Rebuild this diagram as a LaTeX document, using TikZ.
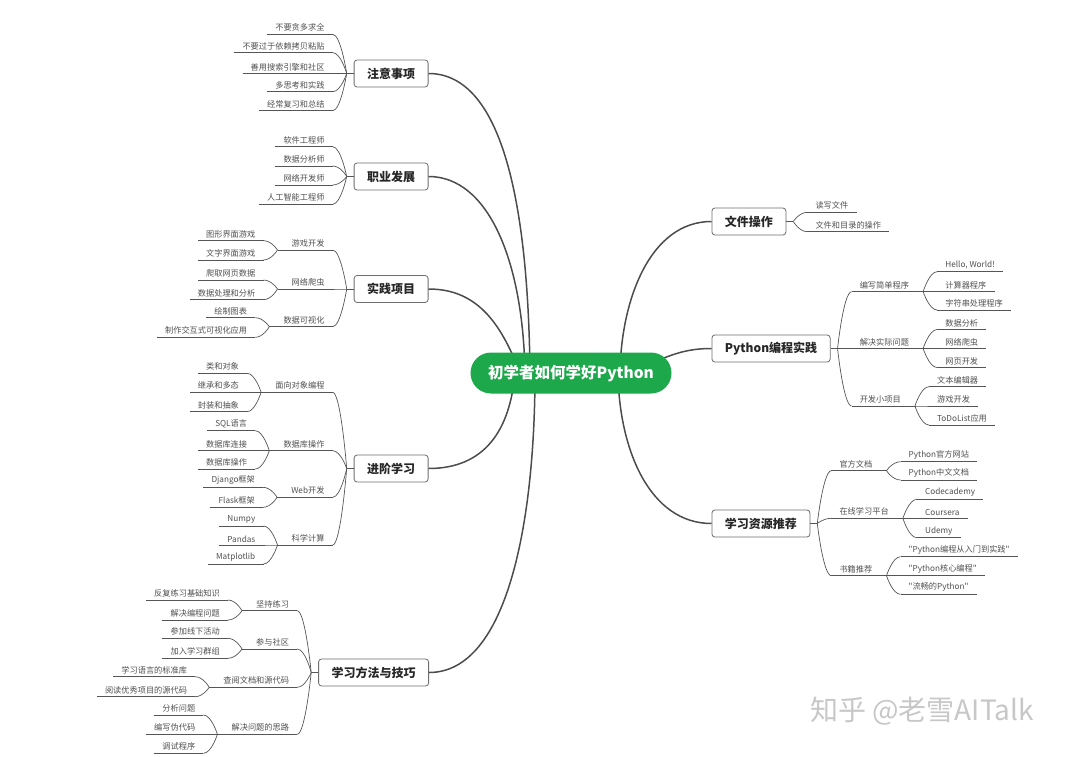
\documentclass[tikz,border=0pt]{standalone}
\usepackage{fontspec}
\setmainfont{Noto Sans CJK SC}
\newfontfamily\plainq{Noto Sans CJK SC}
\usetikzlibrary{calc}
\definecolor{pygreen}{RGB}{29,168,76}
\definecolor{linecol}{RGB}{85,85,85}
\definecolor{boxcol}{RGB}{110,110,110}
\definecolor{leafcol}{RGB}{80,80,80}
\newcommand\leaffont{\fontsize{8.2}{9}\selectfont}
\newcommand\dq{{\plainq\symbol{34}}}
\newcommand\LKid[4]{%
  \node[leaf, anchor=south east] (#1) at ($(#2)+(-14,#3)$) {#4};
  \draw[conn] (#2) .. controls (#2) and ([xshift=8pt]#1.south east) .. (#1.south east);}
\newcommand\RKid[4]{%
  \node[leaf, anchor=south west] (#1) at ($(#2)+(14,#3)$) {#4};
  \draw[conn] (#2) .. controls (#2) and ([xshift=-8pt]#1.south west) .. (#1.south west);}
\newcommand\LFork[1]{\coordinate (#1F) at ([xshift=-6pt]#1.south west); \draw[conn] (#1.south west) -- (#1F);}
\newcommand\RFork[1]{\coordinate (#1F) at ([xshift=6pt]#1.south east); \draw[conn] (#1.south east) -- (#1F);}
\begin{document}
\begin{tikzpicture}[x=1pt,y=-1pt,
  conn/.style={draw=linecol, line width=0.7pt},
  mainconn/.style={draw=linecol!90!black, line width=1.5pt},
  leaf/.style={font=\leaffont, text=leafcol, inner xsep=8pt, inner ysep=2.5pt,
    append after command={(\tikzlastnode.south west) edge[conn] (\tikzlastnode.south east)}},
  mainbox/.style={draw=boxcol, line width=0.8pt, rounded corners=3pt, fill=white, text=black!85,
    font=\fontsize{12}{14}\selectfont\bfseries, inner xsep=13pt, minimum height=27pt},
  centre/.style={fill=pygreen, text=white, rounded corners=20.5pt, minimum width=201pt,
    minimum height=41pt, font=\fontsize{15.5}{18}\selectfont\bfseries}]
\useasboundingbox (0,0) rectangle (1080,756);

% ---------- main nodes ----------
\node[mainbox, anchor=east] (ZY) at (428.5,73.5) {注意事项};
\node[mainbox, anchor=east] (ZF) at (428.5,176.5) {职业发展};
\node[mainbox, anchor=east] (SJ) at (428.5,289) {实践项目};
\node[mainbox, anchor=east] (JJ) at (428.5,468.5) {进阶学习};
\node[mainbox, anchor=east] (XX) at (429,672.5) {学习方法与技巧};
\node[mainbox, anchor=west] (WJ) at (711.5,221.5) {文件操作};
\node[mainbox, anchor=west] (PY) at (711.5,348.5) {Python编程实践};
\node[mainbox, anchor=west] (XZ) at (711.5,523.5) {学习资源推荐};

% ---------- main connectors ----------
\draw[mainconn] (ZY.east) .. controls (495,73.5) and (528,180) .. (530,373);
\draw[mainconn] (ZF.east) .. controls (488,176.5) and (523,260) .. (525,373);
\draw[mainconn] (SJ.east) .. controls (475,289) and (500,320) .. (520,373);
\draw[mainconn] (JJ.east) .. controls (485,468.5) and (510,430) .. (515,373);
\draw[mainconn] (XX.east) .. controls (508,672.5) and (535,520) .. (535,373);
\draw[mainconn] (WJ.west) .. controls (650,221.5) and (621,300) .. (620,373);
\draw[mainconn] (PY.west) .. controls (685,348.5) and (670,355) .. (640,368);
\draw[mainconn] (XZ.west) .. controls (650,523.5) and (619,450) .. (618,373);

% ---------- centre ----------
\node[centre] (C) at (571,373) {初学者如何学好Python};

% ---------- 注意事项 ----------
\coordinate (ZYF) at ([xshift=-7pt]ZY.west); \draw[conn] (ZY.west) -- (ZYF);
\LKid{zy1}{ZYF}{-39.2}{不要贪多求全}
\LKid{zy2}{ZYF}{-20.8}{不要过于依赖拷贝粘贴}
\LKid{zy3}{ZYF}{0}{善用搜索引擎和社区}
\LKid{zy4}{ZYF}{18.2}{多思考和实践}
\LKid{zy5}{ZYF}{37.2}{经常复习和总结}

% ---------- 职业发展 ----------
\coordinate (ZFF) at ([xshift=-7pt]ZF.west); \draw[conn] (ZF.west) -- (ZFF);
\LKid{zf1}{ZFF}{-29.8}{软件工程师}
\LKid{zf2}{ZFF}{-10.5}{数据分析师}
\LKid{zf3}{ZFF}{8.5}{网络开发师}
\LKid{zf4}{ZFF}{27.8}{人工智能工程师}

% ---------- 实践项目 ----------
\coordinate (SJF) at ([xshift=-7pt]SJ.west); \draw[conn] (SJ.west) -- (SJF);
\LKid{sj1}{SJF}{-39}{游戏开发}
\LKid{sj2}{SJF}{0}{网络爬虫}
\LKid{sj3}{SJF}{37.7}{数据可视化}
\LFork{sj1}\LFork{sj2}\LFork{sj3}
\LKid{sj11}{sj1F}{-9.3}{图形界面游戏}
\LKid{sj12}{sj1F}{10}{文字界面游戏}
\LKid{sj21}{sj2F}{-9}{爬取网页数据}
\LKid{sj22}{sj2F}{10.7}{数据处理和分析}
\LKid{sj31}{sj3F}{-9}{绘制图表}
\LKid{sj32}{sj3F}{10.6}{制作交互式可视化应用}

% ---------- 进阶学习 ----------
\coordinate (JJF) at ([xshift=-7pt]JJ.west); \draw[conn] (JJ.west) -- (JJF);
\LKid{jj1}{JJF}{-76.2}{面向对象编程}
\LKid{jj2}{JJF}{-17.8}{数据库操作}
\LKid{jj3}{JJF}{28.8}{Web开发}
\LKid{jj4}{JJF}{76.5}{科学计算}
\LFork{jj1}\LFork{jj2}\LFork{jj3}\LFork{jj4}
\LKid{jj11}{jj1F}{-19}{类和对象}
\LKid{jj12}{jj1F}{0}{继承和多态}
\LKid{jj13}{jj1F}{19.4}{封装和抽象}
\LKid{jj21}{jj2F}{-20}{SQL语言}
\LKid{jj22}{jj2F}{0}{数据库连接}
\LKid{jj23}{jj2F}{18.3}{数据库操作}
\LKid{jj31}{jj3F}{-10}{Django框架}
\LKid{jj32}{jj3F}{10}{Flask框架}
\LKid{jj41}{jj4F}{-19}{Numpy}
\LKid{jj42}{jj4F}{0}{Pandas}
\LKid{jj43}{jj4F}{19}{Matplotlib}

% ---------- 学习方法与技巧 ----------
\coordinate (XXF) at ([xshift=-7pt]XX.west); \draw[conn] (XX.west) -- (XXF);
\LKid{xx1}{XXF}{-61.8}{坚持练习}
\LKid{xx2}{XXF}{-23.5}{参与社区}
\LKid{xx3}{XXF}{14.8}{查阅文档和源代码}
\LKid{xx4}{XXF}{61.8}{解决问题的思路}
\LFork{xx1}\LFork{xx2}\LFork{xx3}\LFork{xx4}
\LKid{xx11}{xx1F}{-10.7}{反复练习基础知识}
\LKid{xx12}{xx1F}{9.3}{解决编程问题}
\LKid{xx21}{xx2F}{-10.7}{参加线下活动}
\LKid{xx22}{xx2F}{9.3}{加入学习群组}
\LKid{xx31}{xx3F}{-10.6}{学习语言的标准库}
\LKid{xx32}{xx3F}{9.4}{阅读优秀项目的源代码}
\LKid{xx41}{xx4F}{-19.3}{分析问题}
\LKid{xx42}{xx4F}{0}{编写伪代码}
\LKid{xx43}{xx4F}{19}{调试程序}

% ---------- 文件操作 ----------
\coordinate (WJF) at ([xshift=7pt]WJ.east); \draw[conn] (WJ.east) -- (WJF);
\RKid{wj1}{WJF}{-9.2}{读写文件}
\RKid{wj2}{WJF}{10.2}{文件和目录的操作}

% ---------- Python编程实践 ----------
\coordinate (PYF) at ([xshift=7pt]PY.east); \draw[conn] (PY.east) -- (PYF);
\RKid{py1}{PYF}{-56.8}{编写简单程序}
\RKid{py2}{PYF}{0}{解决实际问题}
\RKid{py3}{PYF}{57.5}{开发小项目}
\RFork{py1}\RFork{py2}\RFork{py3}
\RKid{py11}{py1F}{-20}{Hello, World!}
\RKid{py12}{py1F}{0}{计算器程序}
\RKid{py13}{py1F}{18.3}{字符串处理程序}
\RKid{py21}{py2F}{-19}{数据分析}
\RKid{py22}{py2F}{0}{网络爬虫}
\RKid{py23}{py2F}{19}{网页开发}
\RKid{py31}{py3F}{-19.3}{文本编辑器}
\RKid{py32}{py3F}{0}{游戏开发}
\RKid{py33}{py3F}{19}{ToDoList应用}

% ---------- 学习资源推荐 ----------
\coordinate (XZF) at ([xshift=7pt]XZ.east); \draw[conn] (XZ.east) -- (XZF);
\RKid{xz1}{XZF}{-52.8}{官方文档}
\RKid{xz2}{XZF}{-5.2}{在线学习平台}
\RKid{xz3}{XZF}{52.2}{书籍推荐}
\RFork{xz1}\RFork{xz2}\RFork{xz3}
\RKid{xz11}{xz1F}{-9}{Python官方网站}
\RKid{xz12}{xz1F}{9.3}{Python中文文档}
\RKid{xz21}{xz2F}{-19}{Codecademy}
\RKid{xz22}{xz2F}{0}{Coursera}
\RKid{xz23}{xz2F}{19.4}{Udemy}
\RKid{xz31}{xz3F}{-19}{\dq Python编程从入门到实践\dq}
\RKid{xz32}{xz3F}{0}{\dq Python核心编程\dq}
\RKid{xz33}{xz3F}{18.6}{\dq 流畅的Python\dq}

% ---------- watermark ----------
\node[text=black!22, font=\fontsize{28}{30}\selectfont] (wm) at (922,711) {知乎 @老雪AITalk};
\end{tikzpicture}
\end{document}
